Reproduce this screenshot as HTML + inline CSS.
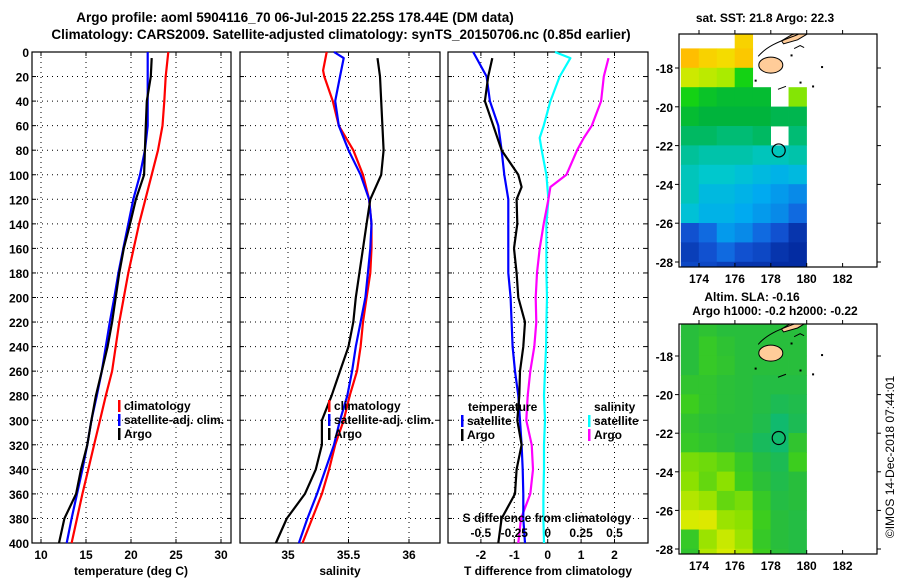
<!DOCTYPE html>
<html><head><meta charset="utf-8"><style>
body{margin:0;background:#fff;}
svg{display:block;font-family:"Liberation Sans",sans-serif;font-weight:bold;}
</style></head><body>
<svg id="chart" width="900" height="580" viewBox="0 0 900 580"></svg>
<script>
// ---- data ----
const depthClim = [0,20,40,60,80,100,120,140,160,180,200,220,240,260,280,300,320,340,360,380,400];
const depthArgo = [5,20,40,60,80,100,120,140,160,180,200,220,240,260,280,300,320,340,360,380,400];
const tempClim = [24.15,23.85,23.7,23.5,23.0,22.3,21.6,20.9,20.3,19.7,19.2,18.7,18.3,17.9,17.2,16.55,15.9,15.25,14.6,14.0,13.4];
const tempSat  = [21.85,21.85,21.85,21.85,21.55,21.0,20.25,19.7,19.15,18.6,18.15,17.65,17.2,16.75,16.2,15.6,15.15,14.6,14.0,13.4,12.85];
const tempArgo = [22.3,22.2,21.75,21.65,21.55,21.45,20.55,19.9,19.2,18.7,18.3,17.9,17.4,16.75,16.1,15.6,15.15,14.45,13.9,12.6,12.0];
const salDepthClim = [0,15,20,40,60,80,100,120,140,160,180,200,220,240,260,280,300,320,340,360,380,400];
const salClim = [35.32,35.29,35.30,35.37,35.42,35.54,35.62,35.67,35.69,35.69,35.68,35.65,35.62,35.60,35.57,35.51,35.46,35.39,35.34,35.28,35.20,35.12];
const salDepthSat = [0,5,20,40,60,80,100,120,140,160,180,200,220,240,260,280,300,320,340,360,380,400];
const salSat = [35.38,35.46,35.43,35.39,35.42,35.50,35.60,35.67,35.69,35.68,35.66,35.64,35.60,35.56,35.53,35.49,35.43,35.38,35.31,35.24,35.16,35.09];
const salArgo = [35.74,35.76,35.77,35.78,35.79,35.77,35.68,35.65,35.62,35.59,35.56,35.54,35.50,35.43,35.36,35.28,35.28,35.23,35.14,34.99,34.90];
const tdiffSat  = [-2.23,-1.83,-1.73,-1.48,-1.38,-1.30,-1.18,-1.18,-1.18,-1.18,-1.11,-1.08,-1.05,-0.98,-0.88,-0.83,-0.78,-0.75,-0.73,-0.73,-0.68];
const tdiffDepthArgo = [5,20,40,60,80,100,110,120,140,160,180,200,220,240,260,280,300,320,340,360,380,400];
const tdiffArgo = [-1.66,-1.78,-1.88,-1.63,-1.38,-0.88,-0.78,-0.93,-0.91,-1.01,-0.93,-0.88,-0.68,-0.73,-0.83,-0.85,-0.91,-0.78,-0.93,-0.98,-1.38,-1.48];
const sdiffDepthSat = [0,5,20,40,60,70,80,100,120,140,160,180,200,220,240,260,280,300,320,340,360,380,400];
const sdiffSat = [0.055,0.17,0.09,0.02,-0.03,-0.06,-0.045,-0.01,0.005,-0.01,-0.01,-0.01,-0.005,-0.01,-0.012,-0.02,-0.028,-0.02,-0.028,-0.028,-0.032,-0.032,-0.028];
const sdiffDepthArgo = [5,20,40,60,70,80,100,110,120,140,160,180,200,220,240,260,280,300,320,340,360,380,400];
const sdiffArgo = [0.455,0.42,0.40,0.33,0.27,0.22,0.14,0.02,0.005,-0.03,-0.06,-0.08,-0.09,-0.085,-0.10,-0.13,-0.15,-0.16,-0.12,-0.11,-0.13,-0.20,-0.22];
const depthTicks = [0,20,40,60,80,100,120,140,160,180,200,220,240,260,280,300,320,340,360,380,400];
const tempTicks = [10,15,20,25,30];
const salTicks = [35,35.5,36];
const salTickLabels = ["35","35.5","36"];
const tdTicks = [-2,-1,0,1,2];
const sdTicks = [-0.5,-0.25,0,0.25,0.5];
const sdTickLabels = ["-0.5","-0.25","0","0.25","0.5"];
const mapLonTicks = [174,176,178,180,182];
const mapLatTicks = [-18,-20,-22,-24,-26,-28];
const cellLons = [173,174,175,176,177,178,179];
const cellLats = [-16,-17,-18,-19,-20,-21,-22,-23,-24,-25,-26,-27,-28];
const sstGrid = [
 [null,null,null,24.6,null,null,null],
 [24.8,24.6,24.5,24.7,null,null,null],
 [24.2,24.1,24.0,23.6,null,null,null],
 [23.6,23.4,23.3,23.3,23.3,null,23.9],
 [23.3,23.2,23.2,23.2,23.2,23.1,23.1],
 [23.0,23.0,22.9,22.9,23.0,null,22.9],
 [22.7,22.6,22.6,22.6,22.5,22.5,22.6],
 [22.5,22.4,22.4,22.3,22.2,22.1,22.2],
 [22.5,22.2,22.2,22.1,22.0,21.9,21.8],
 [22.3,22.1,22.1,22.0,21.9,21.8,21.6],
 [21.4,21.6,21.9,21.8,21.6,21.4,21.1],
 [21.2,21.4,21.6,21.4,21.3,21.1,21.0],
 [21.3,21.3,21.2,21.1,21.1,21.0,21.0]];
const slaGrid = [
 [-0.15,-0.13,-0.15,-0.15,-0.15,-0.15,-0.15],
 [-0.15,-0.10,-0.13,-0.15,-0.15,-0.15,-0.15],
 [-0.15,-0.10,-0.12,-0.15,-0.15,-0.15,-0.15],
 [-0.12,-0.12,-0.14,-0.15,-0.16,-0.16,-0.16],
 [-0.08,-0.12,-0.14,-0.15,-0.16,-0.18,-0.17],
 [-0.12,-0.14,-0.15,-0.15,-0.17,-0.22,-0.18],
 [-0.10,-0.12,-0.14,-0.16,-0.19,-0.22,-0.12],
 [-0.02,-0.03,-0.05,-0.10,-0.16,-0.18,-0.08],
 [0.00,-0.04,0.00,-0.08,-0.14,-0.17,-0.15],
 [0.05,0.02,-0.04,-0.02,-0.10,-0.16,-0.15],
 [0.10,0.12,0.02,0.00,-0.08,-0.15,-0.16],
 [-0.10,0.02,0.08,0.02,-0.10,-0.15,-0.16],
 [-0.12,0.05,0.10,0.05,-0.08,-0.14,-0.16]];
const floatLon = 178.44, floatLat = -22.25;

// ---- helpers ----
const NS = "http://www.w3.org/2000/svg";
const svg = document.getElementById('chart');
function mk(tag, attrs, parent){ const e=document.createElementNS(NS,tag); for(const k in attrs) e.setAttribute(k,attrs[k]); (parent||svg).appendChild(e); return e; }
function txt(s,x,y,size,anchor,parent){ const t=mk('text',{x:x,y:y,'font-size':size,'text-anchor':anchor||'start',fill:'#000'},parent); t.textContent=s; return t; }

const TOP=52, BOT=543;
const yD = d => TOP + d*(BOT-TOP)/400;
const xT = v => 41 + (v-10)*9.0;
const xS = v => 288 + (v-35)*121;
const xTD = v => 547.7 + v*33.4;
const xSD = v => 547.7 + v*4*33.4;

function panel(name,x0,x1,xticks,xf){
  const g=mk('g',{});
  
  
  depthTicks.forEach(d=>{ if(d>0&&d<400) mk('line',{x1:x0,x2:x1,y1:yD(d),y2:yD(d),stroke:'#000','stroke-width':1,'stroke-dasharray':'1 4'},g);
    mk('line',{x1:x0,x2:x0+4,y1:yD(d),y2:yD(d),stroke:'#000'},g); mk('line',{x1:x1-4,x2:x1,y1:yD(d),y2:yD(d),stroke:'#000'},g);});
  xticks.forEach(v=>{ const x=xf(v); mk('line',{x1:x,x2:x,y1:TOP,y2:BOT,stroke:'#000','stroke-dasharray':'1 4'},g);
    mk('line',{x1:x,x2:x,y1:BOT-4,y2:BOT,stroke:'#000'},g); mk('line',{x1:x,x2:x,y1:TOP,y2:TOP+4,stroke:'#000'},g);});
  mk('rect',{x:x0,y:TOP,width:x1-x0,height:BOT-TOP,fill:'none',stroke:'#000','stroke-width':1.2},g);
  return g;
}
function series(name,xs,ds,xf,color,g){
  const pts=xs.map((v,i)=>xf(v).toFixed(1)+','+yD(ds[i]).toFixed(1)).join(' ');
  const p=mk('polyline',{points:pts,fill:'none',stroke:color,'stroke-width':2.2,'stroke-linejoin':'round'},g);
  
  
}
function legend(items,x,y,g){
  items.forEach((it,i)=>{ const yy=y+i*14;
    mk('rect',{x:x,y:yy-10,width:2.5,height:12,fill:it[1]},g);
    const t=txt(it[0],x+6,yy,12,'start',g);
    
    
  });
}

// titles
let t1=txt('Argo profile: aoml 5904116_70 06-Jul-2015 22.25S 178.44E (DM data)',295,22,13.5,'middle');


let t2=txt('Climatology: CARS2009. Satellite-adjusted climatology: synTS_20150706.nc (0.85d earlier)',341,39,13.5,'middle');



// panel 1 temperature
const p1=panel('temperature-panel',32,231,tempTicks,xT);
depthTicks.forEach(d=>{ const t=txt(String(d),29,yD(d)+5,12,'end',p1);  });
tempTicks.forEach(v=>txt(String(v),xT(v),559,12,'middle',p1));
txt('temperature (deg C)',131,575,12,'middle',p1);
series('temp-climatology-line',tempClim,depthClim,xT,'#f00',p1);
series('temp-satellite-line',tempSat,depthClim,xT,'#00f',p1);
series('temp-argo-line',tempArgo,depthArgo,xT,'#000',p1);
legend([['climatology','#f00'],['satellite-adj. clim.','#00f'],['Argo','#000']],118,410,p1);

// panel 2 salinity
const p2=panel('salinity-panel',240,440,salTicks,xS);
salTicks.forEach((v,i)=>txt(salTickLabels[i],xS(v),559,12,'middle',p2));
txt('salinity',340,575,12,'middle',p2);
series('sal-climatology-line',salClim,salDepthClim,xS,'#f00',p2);
series('sal-satellite-line',salSat,salDepthSat,xS,'#00f',p2);
series('sal-argo-line',salArgo,depthArgo,xS,'#000',p2);
legend([['climatology','#f00'],['satellite-adj. clim.','#00f'],['Argo','#000']],328,410,p2);

// panel 3 differences
const p3=panel('difference-panel',448,648,tdTicks,xTD);
tdTicks.forEach(v=>txt(String(v),xTD(v),559,12,'middle',p3));
txt('T difference from climatology',548,575,12,'middle',p3);
series('sdiff-satellite-line',sdiffSat,sdiffDepthSat,xSD,'#0ff',p3);
series('sdiff-argo-line',sdiffArgo,sdiffDepthArgo,xSD,'#f0f',p3);
series('tdiff-satellite-line',tdiffSat,depthClim,xTD,'#00f',p3);
series('tdiff-argo-line',tdiffArgo,tdiffDepthArgo,xTD,'#000',p3);
txt('temperature',468,411,12,'start',p3);
legend([['satellite','#00f'],['Argo','#000']],461,425,p3);
txt('salinity',594,411,12,'start',p3);
legend([['satellite','#0ff'],['Argo','#f0f']],588,425,p3);
txt('S difference from climatology',547,522,12,'middle',p3);
sdTicks.forEach((v,i)=>txt(sdTickLabels[i],xSD(v),537,12,'middle',p3));

// maps
const MX0=679,MX1=877;
const xLon = l => 699 + (l-174)*17.95;
function rgbStr(c){ return 'rgb('+c.join(',')+')'; }
function lerpColor(stops,v){
  if(v<=stops[0][0]) return rgbStr(stops[0][1]);
  for(let i=1;i<stops.length;i++){ if(v<=stops[i][0]){ const a=stops[i-1],b=stops[i],f=(v-a[0])/(b[0]-a[0]);
    return 'rgb('+[0,1,2].map(k=>Math.round(a[1][k]+(b[1][k]-a[1][k])*f)).join(',')+')'; } }
  return rgbStr(stops[stops.length-1][1]);
}
const sstStops=[[20.9,[0,35,150]],[21.5,[20,90,220]],[22.0,[0,170,240]],[22.4,[0,200,205]],[22.8,[0,190,135]],[23.2,[0,180,60]],[23.6,[20,210,20]],[24.0,[170,235,0]],[24.4,[240,230,0]],[24.8,[255,190,0]]];
const slaStops=[[-0.3,[0,190,150]],[-0.2,[20,185,100]],[-0.15,[40,190,60]],[-0.08,[60,205,30]],[0,[140,225,0]],[0.1,[215,235,0]],[0.2,[245,220,0]]];

function drawMap(name,top,bot,latRef,pxPerLat,grid,stops){
  const yLat = l => latRef + (-18-l)*pxPerLat;
  const g=mk('g',{});
  
  
  const cid=name+'-clip';
  const cp=mk('clipPath',{id:cid},g); mk('rect',{x:MX0,y:top,width:MX1-MX0,height:bot-top},cp);
  const cg=mk('g',{'clip-path':'url(#'+cid+')'},g);
  grid.forEach((row,ri)=>row.forEach((v,ci)=>{ if(v===null) return;
    const lat=cellLats[ri], lon=cellLons[ci];
    const r=mk('rect',{x:xLon(lon)-0.2,y:yLat(lat)-0.2,width:17.95+0.4,height:pxPerLat+0.4,fill:lerpColor(stops,v)},cg);
    
    
  }));
  // Fiji islands
  mk('ellipse',{cx:xLon(178.0),cy:yLat(-17.85),rx:12,ry:8,fill:'#fc9',stroke:'#000','stroke-width':1},cg);
  mk('path',{d:'M'+xLon(178.6)+','+(yLat(-16.6))+' l10,-6 l12,-4 l4,3 l-10,6 l-14,4 z',fill:'#fc9',stroke:'#000','stroke-width':1},cg);
  mk('path',{d:'M'+xLon(177.3)+','+yLat(-17.4)+' c10,-12 25,-16 40,-22 M'+xLon(179.3)+','+yLat(-17.0)+' l6,-3 l4,2 M'+xLon(178.4)+','+yLat(-19.1)+' l8,-3',fill:'none',stroke:'#000','stroke-width':1},cg);
  [[179.6,-18.7],[180.3,-18.9],[179.1,-17.3],[177.1,-18.6],[180.8,-17.9]].forEach(p=>mk('rect',{x:xLon(p[0]),y:yLat(p[1]),width:2,height:2,fill:'#000'},cg));
  const c=mk('circle',{cx:xLon(floatLon),cy:yLat(floatLat),r:6.5,fill:'none',stroke:'#000','stroke-width':1.2},g);
  
  
  mk('rect',{x:MX0,y:top,width:MX1-MX0,height:bot-top,fill:'none',stroke:'#000','stroke-width':1.2},g);
  mapLonTicks.forEach(l=>{ mk('line',{x1:xLon(l),x2:xLon(l),y1:bot,y2:bot-4,stroke:'#000'},g); mk('line',{x1:xLon(l),x2:xLon(l),y1:top,y2:top-4,stroke:'#000'},g);
    txt(String(l),xLon(l),bot+16,12,'middle',g);});
  mapLatTicks.forEach(l=>{ mk('line',{x1:MX0-4,x2:MX0,y1:yLat(l),y2:yLat(l),stroke:'#000'},g); mk('line',{x1:MX1,x2:MX1+4,y1:yLat(l),y2:yLat(l),stroke:'#000'},g);
    txt(String(l),MX0-6,yLat(l)+5,12,'end',g);});
  return g;
}
drawMap('sst-map',34,267,68,19.4,sstGrid,sstStops);
drawMap('sla-map',324,554,356,19.3,slaGrid,slaStops);
let mt1=txt('sat. SST: 21.8 Argo: 22.3',765,22,12,'middle');  
let mt2=txt('Altim. SLA: -0.16',752,301,12,'middle');  
let mt3=txt('Argo h1000: -0.2 h2000: -0.22',775,315,12,'middle');  
let cr=txt('©IMOS 14-Dec-2018 07:44:01',0,0,12,'middle'); cr.setAttribute('transform','translate(894,457) rotate(-90)'); cr.setAttribute('font-weight','normal');


</script>
</body></html>
